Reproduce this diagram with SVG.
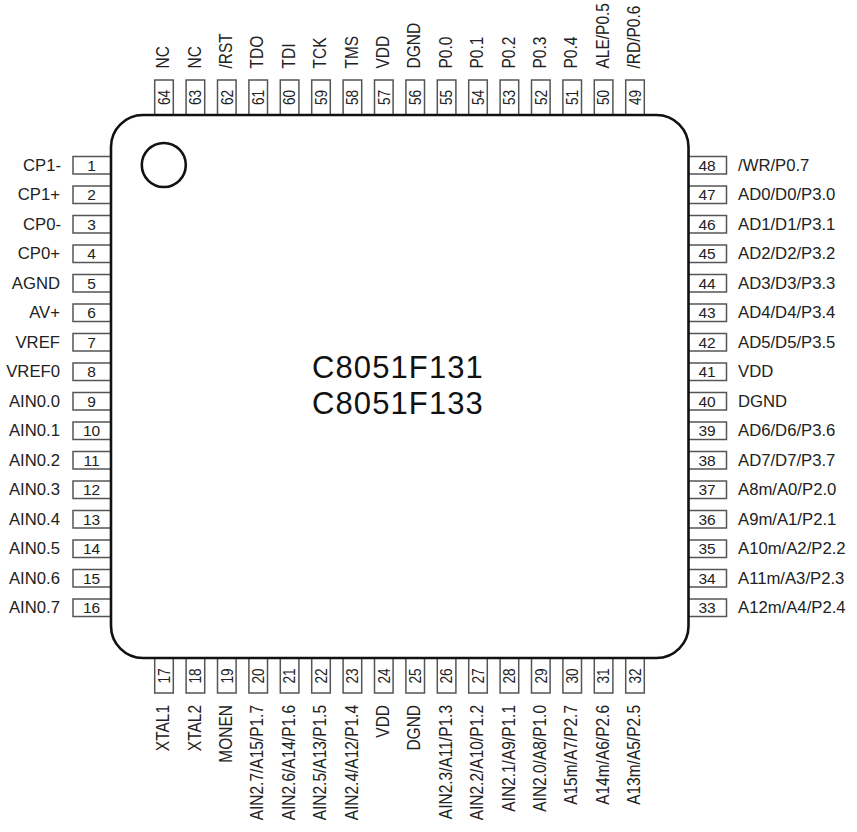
<svg xmlns="http://www.w3.org/2000/svg" width="857" height="832" viewBox="0 0 857 832">
<style>
text{font-family:"Liberation Sans",Arial,sans-serif;fill:#222}
.p{fill:#fff;stroke:#555;stroke-width:1.5}
.l{font-size:16.7px;text-anchor:end}
.r{font-size:16.7px}
.n{font-size:15.5px;text-anchor:middle}
.vn{font-size:17px;text-anchor:middle}
.tl{font-size:17.5px}
.bl{font-size:17.5px;text-anchor:end}
.chip{fill:#fff;stroke:#111;stroke-width:2.6}
.title{font-size:31px;letter-spacing:1.1px;fill:#111}
</style>
<rect width="857" height="832" fill="#fff"/>
<g id="pins-left">
<g id="pin1"><rect class="p" x="73" y="156.5" width="38" height="17.5"/><text class="n" x="91.5" y="170.5">1</text><text class="l" x="61" y="170.5">CP1-</text></g>
<g id="pin2"><rect class="p" x="73" y="186" width="38" height="17.5"/><text class="n" x="91.5" y="200">2</text><text class="l" x="60" y="200">CP1+</text></g>
<g id="pin3"><rect class="p" x="73" y="215.5" width="38" height="17.5"/><text class="n" x="91.5" y="229.5">3</text><text class="l" x="61" y="229.5">CP0-</text></g>
<g id="pin4"><rect class="p" x="73" y="245" width="38" height="17.5"/><text class="n" x="91.5" y="259">4</text><text class="l" x="60" y="259">CP0+</text></g>
<g id="pin5"><rect class="p" x="73" y="274.5" width="38" height="17.5"/><text class="n" x="91.5" y="288.5">5</text><text class="l" x="60" y="288.5">AGND</text></g>
<g id="pin6"><rect class="p" x="73" y="304" width="38" height="17.5"/><text class="n" x="91.5" y="318">6</text><text class="l" x="60" y="318">AV+</text></g>
<g id="pin7"><rect class="p" x="73" y="333.5" width="38" height="17.5"/><text class="n" x="91.5" y="347.5">7</text><text class="l" x="60" y="347.5">VREF</text></g>
<g id="pin8"><rect class="p" x="73" y="363" width="38" height="17.5"/><text class="n" x="91.5" y="377">8</text><text class="l" x="60" y="377">VREF0</text></g>
<g id="pin9"><rect class="p" x="73" y="392.5" width="38" height="17.5"/><text class="n" x="91.5" y="406.5">9</text><text class="l" x="60" y="406.5">AIN0.0</text></g>
<g id="pin10"><rect class="p" x="73" y="422" width="38" height="17.5"/><text class="n" x="91.5" y="436">10</text><text class="l" x="60" y="436">AIN0.1</text></g>
<g id="pin11"><rect class="p" x="73" y="451.5" width="38" height="17.5"/><text class="n" x="91.5" y="465.5">11</text><text class="l" x="60" y="465.5">AIN0.2</text></g>
<g id="pin12"><rect class="p" x="73" y="481" width="38" height="17.5"/><text class="n" x="91.5" y="495">12</text><text class="l" x="60" y="495">AIN0.3</text></g>
<g id="pin13"><rect class="p" x="73" y="510.5" width="38" height="17.5"/><text class="n" x="91.5" y="524.5">13</text><text class="l" x="60" y="524.5">AIN0.4</text></g>
<g id="pin14"><rect class="p" x="73" y="540" width="38" height="17.5"/><text class="n" x="91.5" y="554">14</text><text class="l" x="60" y="554">AIN0.5</text></g>
<g id="pin15"><rect class="p" x="73" y="569.5" width="38" height="17.5"/><text class="n" x="91.5" y="583.5">15</text><text class="l" x="60" y="583.5">AIN0.6</text></g>
<g id="pin16"><rect class="p" x="73" y="599" width="38" height="17.5"/><text class="n" x="91.5" y="613">16</text><text class="l" x="60" y="613">AIN0.7</text></g>
</g>
<g id="pins-right">
<g id="pin48"><rect class="p" x="688" y="156.5" width="38.5" height="17.5"/><text class="n" x="707" y="170.5">48</text><text class="r" x="738" y="170.5">/WR/P0.7</text></g>
<g id="pin47"><rect class="p" x="688" y="186" width="38.5" height="17.5"/><text class="n" x="707" y="200">47</text><text class="r" x="738" y="200">AD0/D0/P3.0</text></g>
<g id="pin46"><rect class="p" x="688" y="215.5" width="38.5" height="17.5"/><text class="n" x="707" y="229.5">46</text><text class="r" x="738" y="229.5">AD1/D1/P3.1</text></g>
<g id="pin45"><rect class="p" x="688" y="245" width="38.5" height="17.5"/><text class="n" x="707" y="259">45</text><text class="r" x="738" y="259">AD2/D2/P3.2</text></g>
<g id="pin44"><rect class="p" x="688" y="274.5" width="38.5" height="17.5"/><text class="n" x="707" y="288.5">44</text><text class="r" x="738" y="288.5">AD3/D3/P3.3</text></g>
<g id="pin43"><rect class="p" x="688" y="304" width="38.5" height="17.5"/><text class="n" x="707" y="318">43</text><text class="r" x="738" y="318">AD4/D4/P3.4</text></g>
<g id="pin42"><rect class="p" x="688" y="333.5" width="38.5" height="17.5"/><text class="n" x="707" y="347.5">42</text><text class="r" x="738" y="347.5">AD5/D5/P3.5</text></g>
<g id="pin41"><rect class="p" x="688" y="363" width="38.5" height="17.5"/><text class="n" x="707" y="377">41</text><text class="r" x="738" y="377">VDD</text></g>
<g id="pin40"><rect class="p" x="688" y="392.5" width="38.5" height="17.5"/><text class="n" x="707" y="406.5">40</text><text class="r" x="738" y="406.5">DGND</text></g>
<g id="pin39"><rect class="p" x="688" y="422" width="38.5" height="17.5"/><text class="n" x="707" y="436">39</text><text class="r" x="738" y="436">AD6/D6/P3.6</text></g>
<g id="pin38"><rect class="p" x="688" y="451.5" width="38.5" height="17.5"/><text class="n" x="707" y="465.5">38</text><text class="r" x="738" y="465.5">AD7/D7/P3.7</text></g>
<g id="pin37"><rect class="p" x="688" y="481" width="38.5" height="17.5"/><text class="n" x="707" y="495">37</text><text class="r" x="738" y="495">A8m/A0/P2.0</text></g>
<g id="pin36"><rect class="p" x="688" y="510.5" width="38.5" height="17.5"/><text class="n" x="707" y="524.5">36</text><text class="r" x="738" y="524.5">A9m/A1/P2.1</text></g>
<g id="pin35"><rect class="p" x="688" y="540" width="38.5" height="17.5"/><text class="n" x="707" y="554">35</text><text class="r" x="738" y="554">A10m/A2/P2.2</text></g>
<g id="pin34"><rect class="p" x="688" y="569.5" width="38.5" height="17.5"/><text class="n" x="707" y="583.5">34</text><text class="r" x="738" y="583.5">A11m/A3/P2.3</text></g>
<g id="pin33"><rect class="p" x="688" y="599" width="38.5" height="17.5"/><text class="n" x="707" y="613">33</text><text class="r" x="738" y="613">A12m/A4/P2.4</text></g>
</g>
<g id="pins-top">
<g id="pin64"><rect class="p" x="154.7" y="80" width="18.6" height="35"/><text class="vn" transform="translate(169.8 97.5) rotate(-90) scale(.8 1)">64</text><text class="tl" transform="translate(169.2 68.5) rotate(-90) scale(.885 1)">NC</text></g>
<g id="pin63"><rect class="p" x="186.1" y="80" width="18.6" height="35"/><text class="vn" transform="translate(201.2 97.5) rotate(-90) scale(.8 1)">63</text><text class="tl" transform="translate(200.6 68.5) rotate(-90) scale(.885 1)">NC</text></g>
<g id="pin62"><rect class="p" x="217.5" y="80" width="18.6" height="35"/><text class="vn" transform="translate(232.6 97.5) rotate(-90) scale(.8 1)">62</text><text class="tl" transform="translate(232 68.5) rotate(-90) scale(.885 1)">/RST</text></g>
<g id="pin61"><rect class="p" x="248.9" y="80" width="18.6" height="35"/><text class="vn" transform="translate(264 97.5) rotate(-90) scale(.8 1)">61</text><text class="tl" transform="translate(263.4 68.5) rotate(-90) scale(.885 1)">TDO</text></g>
<g id="pin60"><rect class="p" x="280.3" y="80" width="18.6" height="35"/><text class="vn" transform="translate(295.4 97.5) rotate(-90) scale(.8 1)">60</text><text class="tl" transform="translate(294.8 68.5) rotate(-90) scale(.885 1)">TDI</text></g>
<g id="pin59"><rect class="p" x="311.7" y="80" width="18.6" height="35"/><text class="vn" transform="translate(326.8 97.5) rotate(-90) scale(.8 1)">59</text><text class="tl" transform="translate(326.2 68.5) rotate(-90) scale(.885 1)">TCK</text></g>
<g id="pin58"><rect class="p" x="343.1" y="80" width="18.6" height="35"/><text class="vn" transform="translate(358.2 97.5) rotate(-90) scale(.8 1)">58</text><text class="tl" transform="translate(357.6 68.5) rotate(-90) scale(.885 1)">TMS</text></g>
<g id="pin57"><rect class="p" x="374.5" y="80" width="18.6" height="35"/><text class="vn" transform="translate(389.6 97.5) rotate(-90) scale(.8 1)">57</text><text class="tl" transform="translate(389 68.5) rotate(-90) scale(.885 1)">VDD</text></g>
<g id="pin56"><rect class="p" x="405.9" y="80" width="18.6" height="35"/><text class="vn" transform="translate(421 97.5) rotate(-90) scale(.8 1)">56</text><text class="tl" transform="translate(420.4 68.5) rotate(-90) scale(.885 1)">DGND</text></g>
<g id="pin55"><rect class="p" x="437.3" y="80" width="18.6" height="35"/><text class="vn" transform="translate(452.4 97.5) rotate(-90) scale(.8 1)">55</text><text class="tl" transform="translate(451.8 68.5) rotate(-90) scale(.885 1)">P0.0</text></g>
<g id="pin54"><rect class="p" x="468.7" y="80" width="18.6" height="35"/><text class="vn" transform="translate(483.8 97.5) rotate(-90) scale(.8 1)">54</text><text class="tl" transform="translate(483.2 68.5) rotate(-90) scale(.885 1)">P0.1</text></g>
<g id="pin53"><rect class="p" x="500.1" y="80" width="18.6" height="35"/><text class="vn" transform="translate(515.2 97.5) rotate(-90) scale(.8 1)">53</text><text class="tl" transform="translate(514.6 68.5) rotate(-90) scale(.885 1)">P0.2</text></g>
<g id="pin52"><rect class="p" x="531.5" y="80" width="18.6" height="35"/><text class="vn" transform="translate(546.6 97.5) rotate(-90) scale(.8 1)">52</text><text class="tl" transform="translate(546 68.5) rotate(-90) scale(.885 1)">P0.3</text></g>
<g id="pin51"><rect class="p" x="562.9" y="80" width="18.6" height="35"/><text class="vn" transform="translate(578 97.5) rotate(-90) scale(.8 1)">51</text><text class="tl" transform="translate(577.4 68.5) rotate(-90) scale(.885 1)">P0.4</text></g>
<g id="pin50"><rect class="p" x="594.3" y="80" width="18.6" height="35"/><text class="vn" transform="translate(609.4 97.5) rotate(-90) scale(.8 1)">50</text><text class="tl" transform="translate(608.8 68.5) rotate(-90) scale(.885 1)">ALE/P0.5</text></g>
<g id="pin49"><rect class="p" x="625.7" y="80" width="18.6" height="35"/><text class="vn" transform="translate(640.8 97.5) rotate(-90) scale(.8 1)">49</text><text class="tl" transform="translate(640.2 68.5) rotate(-90) scale(.885 1)">/RD/P0.6</text></g>
</g>
<g id="pins-bottom">
<g id="pin17"><rect class="p" x="154.7" y="658" width="18.6" height="35"/><text class="vn" transform="translate(169.8 676) rotate(-90) scale(.8 1)">17</text><text class="bl" transform="translate(169.2 705) rotate(-90) scale(.885 1)">XTAL1</text></g>
<g id="pin18"><rect class="p" x="186.1" y="658" width="18.6" height="35"/><text class="vn" transform="translate(201.2 676) rotate(-90) scale(.8 1)">18</text><text class="bl" transform="translate(200.6 705) rotate(-90) scale(.885 1)">XTAL2</text></g>
<g id="pin19"><rect class="p" x="217.5" y="658" width="18.6" height="35"/><text class="vn" transform="translate(232.6 676) rotate(-90) scale(.8 1)">19</text><text class="bl" transform="translate(232 705) rotate(-90) scale(.885 1)">MONEN</text></g>
<g id="pin20"><rect class="p" x="248.9" y="658" width="18.6" height="35"/><text class="vn" transform="translate(264 676) rotate(-90) scale(.8 1)">20</text><text class="bl" transform="translate(263.4 705) rotate(-90) scale(.885 1)">AIN2.7/A15/P1.7</text></g>
<g id="pin21"><rect class="p" x="280.3" y="658" width="18.6" height="35"/><text class="vn" transform="translate(295.4 676) rotate(-90) scale(.8 1)">21</text><text class="bl" transform="translate(294.8 705) rotate(-90) scale(.885 1)">AIN2.6/A14/P1.6</text></g>
<g id="pin22"><rect class="p" x="311.7" y="658" width="18.6" height="35"/><text class="vn" transform="translate(326.8 676) rotate(-90) scale(.8 1)">22</text><text class="bl" transform="translate(326.2 705) rotate(-90) scale(.885 1)">AIN2.5/A13/P1.5</text></g>
<g id="pin23"><rect class="p" x="343.1" y="658" width="18.6" height="35"/><text class="vn" transform="translate(358.2 676) rotate(-90) scale(.8 1)">23</text><text class="bl" transform="translate(357.6 705) rotate(-90) scale(.885 1)">AIN2.4/A12/P1.4</text></g>
<g id="pin24"><rect class="p" x="374.5" y="658" width="18.6" height="35"/><text class="vn" transform="translate(389.6 676) rotate(-90) scale(.8 1)">24</text><text class="bl" transform="translate(389 705) rotate(-90) scale(.885 1)">VDD</text></g>
<g id="pin25"><rect class="p" x="405.9" y="658" width="18.6" height="35"/><text class="vn" transform="translate(421 676) rotate(-90) scale(.8 1)">25</text><text class="bl" transform="translate(420.4 705) rotate(-90) scale(.885 1)">DGND</text></g>
<g id="pin26"><rect class="p" x="437.3" y="658" width="18.6" height="35"/><text class="vn" transform="translate(452.4 676) rotate(-90) scale(.8 1)">26</text><text class="bl" transform="translate(451.8 705) rotate(-90) scale(.885 1)">AIN2.3/A11/P1.3</text></g>
<g id="pin27"><rect class="p" x="468.7" y="658" width="18.6" height="35"/><text class="vn" transform="translate(483.8 676) rotate(-90) scale(.8 1)">27</text><text class="bl" transform="translate(483.2 705) rotate(-90) scale(.885 1)">AIN2.2/A10/P1.2</text></g>
<g id="pin28"><rect class="p" x="500.1" y="658" width="18.6" height="35"/><text class="vn" transform="translate(515.2 676) rotate(-90) scale(.8 1)">28</text><text class="bl" transform="translate(514.6 705) rotate(-90) scale(.885 1)">AIN2.1/A9/P1.1</text></g>
<g id="pin29"><rect class="p" x="531.5" y="658" width="18.6" height="35"/><text class="vn" transform="translate(546.6 676) rotate(-90) scale(.8 1)">29</text><text class="bl" transform="translate(546 705) rotate(-90) scale(.885 1)">AIN2.0/A8/P1.0</text></g>
<g id="pin30"><rect class="p" x="562.9" y="658" width="18.6" height="35"/><text class="vn" transform="translate(578 676) rotate(-90) scale(.8 1)">30</text><text class="bl" transform="translate(577.4 705) rotate(-90) scale(.885 1)">A15m/A7/P2.7</text></g>
<g id="pin31"><rect class="p" x="594.3" y="658" width="18.6" height="35"/><text class="vn" transform="translate(609.4 676) rotate(-90) scale(.8 1)">31</text><text class="bl" transform="translate(608.8 705) rotate(-90) scale(.885 1)">A14m/A6/P2.6</text></g>
<g id="pin32"><rect class="p" x="625.7" y="658" width="18.6" height="35"/><text class="vn" transform="translate(640.8 676) rotate(-90) scale(.8 1)">32</text><text class="bl" transform="translate(640.2 705) rotate(-90) scale(.885 1)">A13m/A5/P2.5</text></g>
</g>
<g id="chip">
<rect class="chip" x="111" y="115" width="577.5" height="543" rx="32" ry="32"/>
<circle cx="163.8" cy="165" r="22" fill="none" stroke="#111" stroke-width="2.6"/>
<text class="title" x="312" y="378">C8051F131</text>
<text class="title" x="312" y="413.5">C8051F133</text>
</g>
</svg>
